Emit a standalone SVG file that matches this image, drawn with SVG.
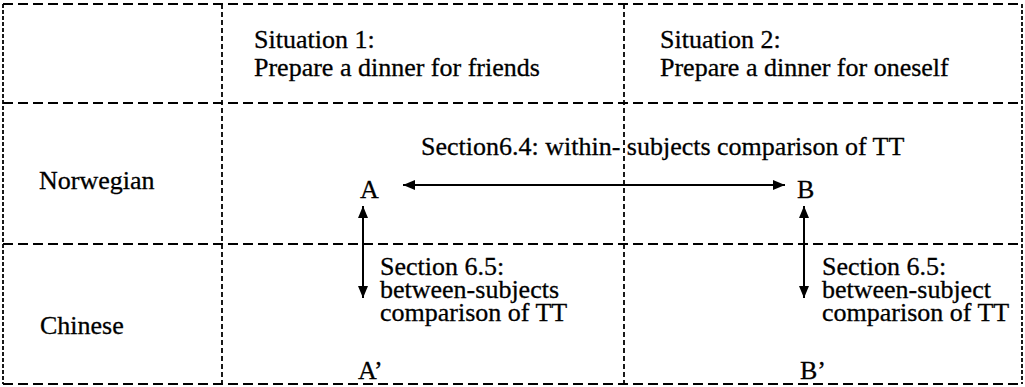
<svg xmlns="http://www.w3.org/2000/svg" width="1025" height="387" viewBox="0 0 1025 387">
  <style>
    text { font-family: "Liberation Serif", "Times New Roman", "DejaVu Serif", serif; font-size: 26px; fill: #000; stroke: #000; stroke-width: 0.3; }
    .hline { stroke: #000; stroke-width: 1.8; stroke-dasharray: 10 5; fill: none; }
    .vline { stroke: #000; stroke-width: 1.8; stroke-dasharray: 5 3; fill: none; }
    .edge  { stroke: #000; stroke-width: 1.8; stroke-dasharray: 4 2; fill: none; }
    .conn  { stroke: #000; stroke-width: 2; fill: none; marker-start: url(#head); marker-end: url(#head); }
  </style>
  <defs>
    <marker id="head" markerUnits="userSpaceOnUse" markerWidth="13" markerHeight="11" refX="12" refY="5" orient="auto-start-reverse">
      <path d="M0,0 L12,5 L0,10 z" fill="#000"/>
    </marker>
  </defs>
  <rect width="1025" height="387" fill="#fff"/>

  <!-- table grid -->
  <g id="grid">
    <line class="hline" x1="3" y1="4" x2="1022" y2="4"/>
    <line class="hline" x1="3" y1="103" x2="1022" y2="103"/>
    <line class="hline" x1="3" y1="244" x2="1022" y2="244"/>
    <line class="hline" x1="3" y1="384" x2="1022" y2="384"/>
    <line class="edge" x1="3" y1="4" x2="3" y2="384"/>
    <line class="edge" x1="1022" y1="4" x2="1022" y2="384"/>
    <line class="vline" x1="222" y1="4" x2="222" y2="384"/>
    <line class="vline" x1="624" y1="4" x2="624" y2="384"/>
  </g>

  <g font-family="Liberation Serif, Times New Roman, DejaVu Serif, serif">
    <!-- column headers -->
    <g id="situation1">
      <text x="254" y="48">Situation 1:</text>
      <text x="254" y="76">Prepare a dinner for friends</text>
    </g>
    <g id="situation2">
      <text x="660" y="48">Situation 2:</text>
      <text x="660" y="76">Prepare a dinner for oneself</text>
    </g>

    <!-- row headers -->
    <g id="norwegian">
      <text x="39" y="189">Norwegian</text>
    </g>
    <g id="chinese">
      <text x="40" y="334">Chinese</text>
    </g>

    <!-- cells -->
    <g id="node-A"><text x="360" y="198">A</text></g>
    <g id="node-B"><text x="797" y="198">B</text></g>
    <g id="node-A-prime"><text x="358" y="379">A’</text></g>
    <g id="node-B-prime"><text x="800" y="379">B’</text></g>

    <!-- comparison labels -->
    <g id="connector-labels">
      <text x="421" y="155">Section6.4: within- subjects comparison of TT</text>
      <text x="380" y="275">Section 6.5:</text>
      <text x="380" y="298">between-subjects</text>
      <text x="380" y="321">comparison of TT</text>
      <text x="822" y="275">Section 6.5:</text>
      <text x="822" y="298">between-subject</text>
      <text x="822" y="321">comparison of TT</text>
    </g>
  </g>

  <!-- comparisons -->
  <g id="connectors">
    <line class="conn" x1="403" y1="185" x2="785" y2="185"/>
    <line class="conn" x1="363" y1="206" x2="363" y2="298"/>
    <line class="conn" x1="804" y1="206" x2="804" y2="298"/>
  </g>
</svg>
